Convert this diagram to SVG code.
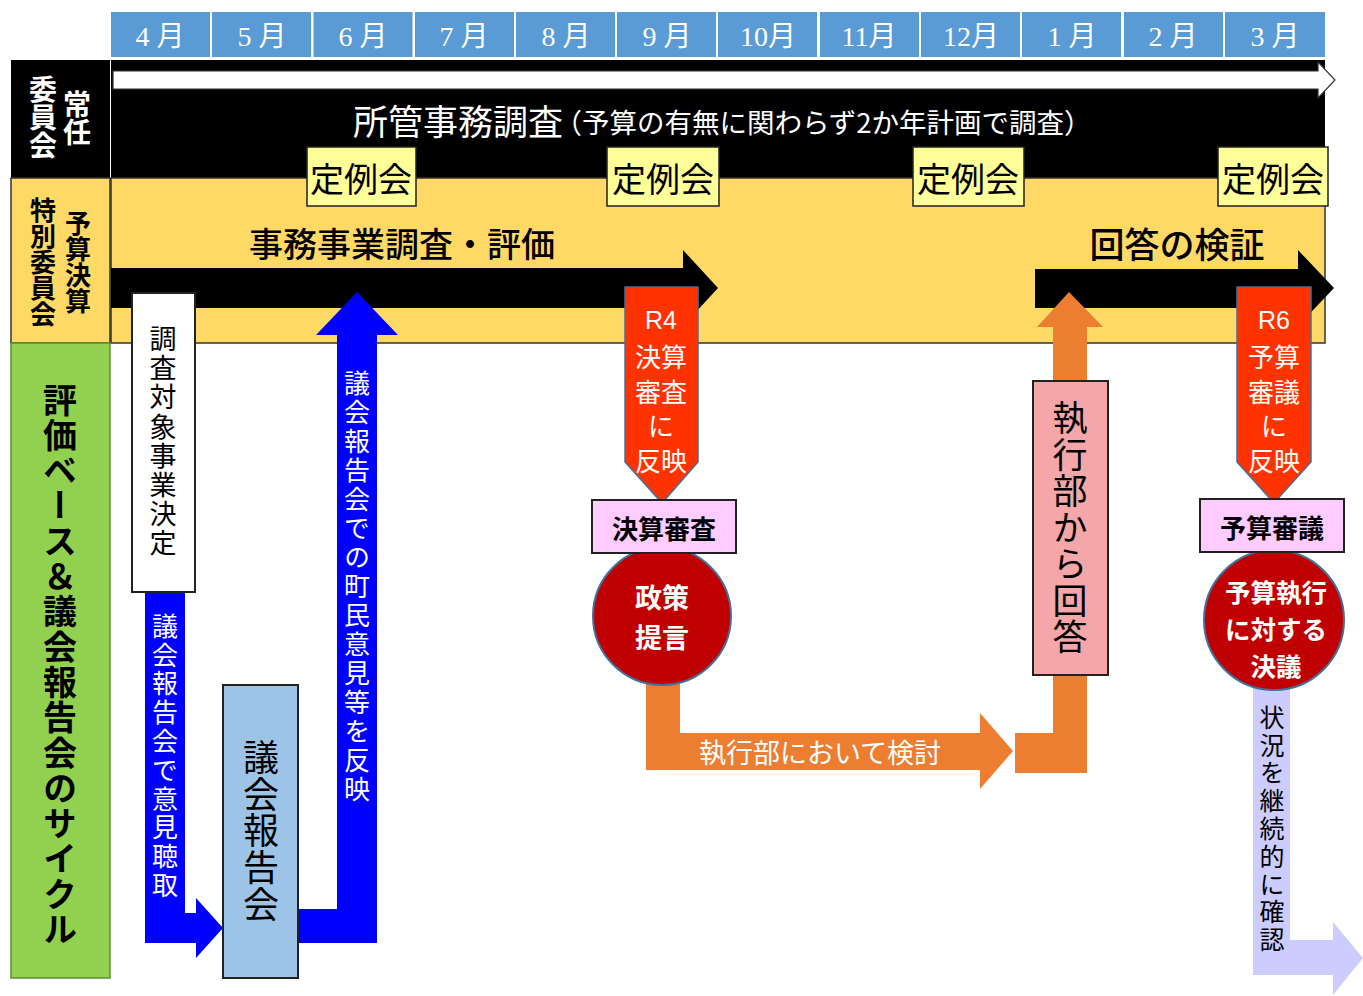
<svg xmlns="http://www.w3.org/2000/svg" width="1363" height="996" viewBox="0 0 1363 996">
<style>
text{font-family:"Noto Sans CJK JP","Noto Sans",sans-serif;dominant-baseline:central;text-anchor:middle}
.mon{font-family:"Liberation Serif","Noto Sans CJK JP",serif;font-size:28px;fill:#fff}
.v{writing-mode:vertical-rl}
.wht{fill:#fff}
.blk{fill:#000}
.b{font-weight:700}
.box{stroke:#222;stroke-width:2}
.rd{fill:#FF3300;stroke:#41719C;stroke-width:1.5}
.cir{fill:#C00000;stroke:#41719C;stroke-width:2}
.rl{fill:#FFFF99;stroke:#222;stroke-width:1.5}
</style>
<rect width="1363" height="996" fill="#fff"/>
<g id="months">
<rect x="111" y="12" width="99" height="45" fill="#5B9BD5"/><text class="mon" x="160" y="36">4 月</text>
<rect x="212" y="12" width="99" height="45" fill="#5B9BD5"/><text class="mon" x="262" y="36">5 月</text>
<rect x="313.5" y="12" width="99" height="45" fill="#5B9BD5"/><text class="mon" x="363" y="36">6 月</text>
<rect x="415" y="12" width="99" height="45" fill="#5B9BD5"/><text class="mon" x="464" y="36">7 月</text>
<rect x="516" y="12" width="99" height="45" fill="#5B9BD5"/><text class="mon" x="566" y="36">8 月</text>
<rect x="617" y="12" width="99" height="45" fill="#5B9BD5"/><text class="mon" x="667" y="36">9 月</text>
<rect x="718" y="12" width="99" height="45" fill="#5B9BD5"/><text class="mon" x="768" y="36">10月</text>
<rect x="820" y="12" width="99" height="45" fill="#5B9BD5"/><text class="mon" x="869" y="36">11月</text>
<rect x="921" y="12" width="99" height="45" fill="#5B9BD5"/><text class="mon" x="971" y="36">12月</text>
<rect x="1022" y="12" width="99" height="45" fill="#5B9BD5"/><text class="mon" x="1072" y="36">1 月</text>
<rect x="1124" y="12" width="99" height="45" fill="#5B9BD5"/><text class="mon" x="1173" y="36">2 月</text>
<rect x="1225" y="12" width="100" height="45" fill="#5B9BD5"/><text class="mon" x="1275" y="36">3 月</text>
</g>
<g id="band-standing">
<rect x="111" y="60" width="1214" height="118" fill="#000"/>
<path d="M113,71 L1318,71 L1318,62 L1335,80 L1318,98 L1318,89 L113,89 Z" fill="#fff" stroke="#333" stroke-width="1.2"/>
<text class="wht" x="458" y="119" font-size="35">所管事務調査</text>
<text class="wht" x="823" y="121" font-size="27.5">（予算の有無に関わらず2か年計画で調査）</text>
</g>
<g id="band-budget">
<rect x="111" y="178" width="1214" height="165" fill="#FFD966" stroke="#333" stroke-width="1.5"/>
<text class="blk" x="402" y="242" font-size="34" font-weight="500">事務事業調査・評価</text>
<text class="blk" x="1177" y="242" font-size="35" font-weight="500">回答の検証</text>
</g>
<g id="label-standing">
<rect x="11" y="60" width="99" height="118" fill="#000"/>
<text class="v wht b" x="77" y="118" font-size="28">常任</text>
<text class="v wht b" x="43" y="117" font-size="28">委員会</text>
</g>
<g id="label-budget">
<rect x="11" y="178" width="99" height="165" fill="#FFD966" stroke="#333" stroke-width="1.5"/>
<text class="v blk b" x="78" y="262" font-size="26">予算決算</text>
<text class="v blk b" x="43" y="262" font-size="26">特別委員会</text>
</g>
<g id="label-cycle">
<rect x="11" y="343" width="99" height="635" fill="#92D050" stroke="#5E8E30" stroke-width="1.5"/>
<text class="v blk b" x="60" y="665" font-size="34" letter-spacing="1.3">評価ベース＆議会報告会のサイクル</text>
</g>
<g id="connectors">
<path d="M111,268 L683,268 L683,250 L718,288 L683,326 L683,308 L111,308 Z" fill="#000"/>
<path d="M1035,269 L1298,269 L1298,250 L1334,288 L1298,326 L1298,308 L1035,308 Z" fill="#000"/>
<path d="M646,640 L680,640 L680,733 L980,733 L980,713 L1013,751 L980,789 L980,770 L646,770 Z" fill="#ED7D31"/>
<path d="M1015,733 L1053,733 L1053,327 L1037,327 L1069,292 L1103,327 L1087,327 L1087,773 L1015,773 Z" fill="#ED7D31"/>
<path d="M145,592 L185,592 L185,913 L196,913 L196,898 L223,928 L196,958 L196,943 L145,943 Z" fill="#0000FF"/>
<path d="M298,909 L337,909 L337,335 L316,335 L357,292 L398,335 L377,335 L377,943 L298,943 Z" fill="#0000FF"/>
<path d="M1253,680 L1290,680 L1290,940 L1333,940 L1333,922 L1363,958 L1333,995 L1333,975 L1253,975 Z" fill="#CCCCFF"/>
<text class="wht" x="820" y="751" font-size="27">執行部において検討</text>
<text class="v wht" x="165" y="757" font-size="26" letter-spacing="2.8">議会報告会で意見聴取</text>
<text class="v wht" x="357" y="588" font-size="26" letter-spacing="3">議会報告会での町民意見等を反映</text>
<text class="v blk" x="1272" y="830" font-size="25" letter-spacing="2.8">状況を継続的に確認</text>
</g>
<g id="teirei">
<rect class="rl" x="307" y="147" width="109" height="59"/><text class="blk" x="361" y="177" font-size="34">定例会</text>
<rect class="rl" x="607" y="147" width="112" height="59"/><text class="blk" x="663" y="177" font-size="34">定例会</text>
<rect class="rl" x="913" y="147" width="111" height="59"/><text class="blk" x="968" y="177" font-size="34">定例会</text>
<rect class="rl" x="1218" y="147" width="110" height="59"/><text class="blk" x="1273" y="177" font-size="34">定例会</text>
</g>
<g id="node-chosa">
<rect class="box" x="132" y="293" width="63" height="299" fill="#fff"/>
<text class="v blk" x="163" y="442" font-size="27" letter-spacing="2.2">調査対象事業決定</text>
</g>
<g id="node-hokokukai">
<rect class="box" x="223" y="685" width="75" height="293" fill="#9DC3E6"/>
<text class="v blk" x="261" y="831" font-size="36" letter-spacing="0.6">議会報告会</text>
</g>
<g id="node-kaito">
<rect class="box" x="1033" y="381" width="75" height="294" fill="#F4A6A8"/>
<text class="v blk" x="1070" y="528" font-size="35" letter-spacing="1.5">執行部から回答</text>
</g>
<g id="node-r4">
<path class="rd" d="M625,287 L698,287 L698,462 L662,503 L625,462 Z"/>
<text class="wht" font-size="26"><tspan x="661" y="320" font-family="Liberation Sans,sans-serif" font-size="25">R4</tspan><tspan x="661" y="355">決算</tspan><tspan x="661" y="390">審査</tspan><tspan x="661" y="424">に</tspan><tspan x="661" y="459">反映</tspan></text>
</g>
<g id="node-r6">
<path class="rd" d="M1237,287 L1311,287 L1311,462 L1274,503 L1237,462 Z"/>
<text class="wht" font-size="26"><tspan x="1274" y="320" font-family="Liberation Sans,sans-serif" font-size="25">R6</tspan><tspan x="1274" y="355">予算</tspan><tspan x="1274" y="390">審議</tspan><tspan x="1274" y="424">に</tspan><tspan x="1274" y="459">反映</tspan></text>
</g>
<g id="node-seisaku">
<circle class="cir" cx="662" cy="616" r="69"/>
<text class="wht b" font-size="27"><tspan x="662" y="596">政策</tspan><tspan x="662" y="636">提言</tspan></text>
</g>
<g id="node-kessan">
<rect class="box" x="592" y="500" width="144" height="53" fill="#FFCCFF"/>
<text class="blk b" x="664" y="527" font-size="26">決算審査</text>
</g>
<g id="node-ketsugi">
<circle class="cir" cx="1274" cy="620" r="70"/>
<text class="wht b" font-size="25.5"><tspan x="1276" y="590">予算執行</tspan><tspan x="1276" y="627">に対する</tspan><tspan x="1276" y="664">決議</tspan></text>
</g>
<g id="node-yosan">
<rect class="box" x="1200" y="499" width="144" height="53" fill="#FFCCFF"/>
<text class="blk b" x="1272" y="526" font-size="26">予算審議</text>
</g>
</svg>
